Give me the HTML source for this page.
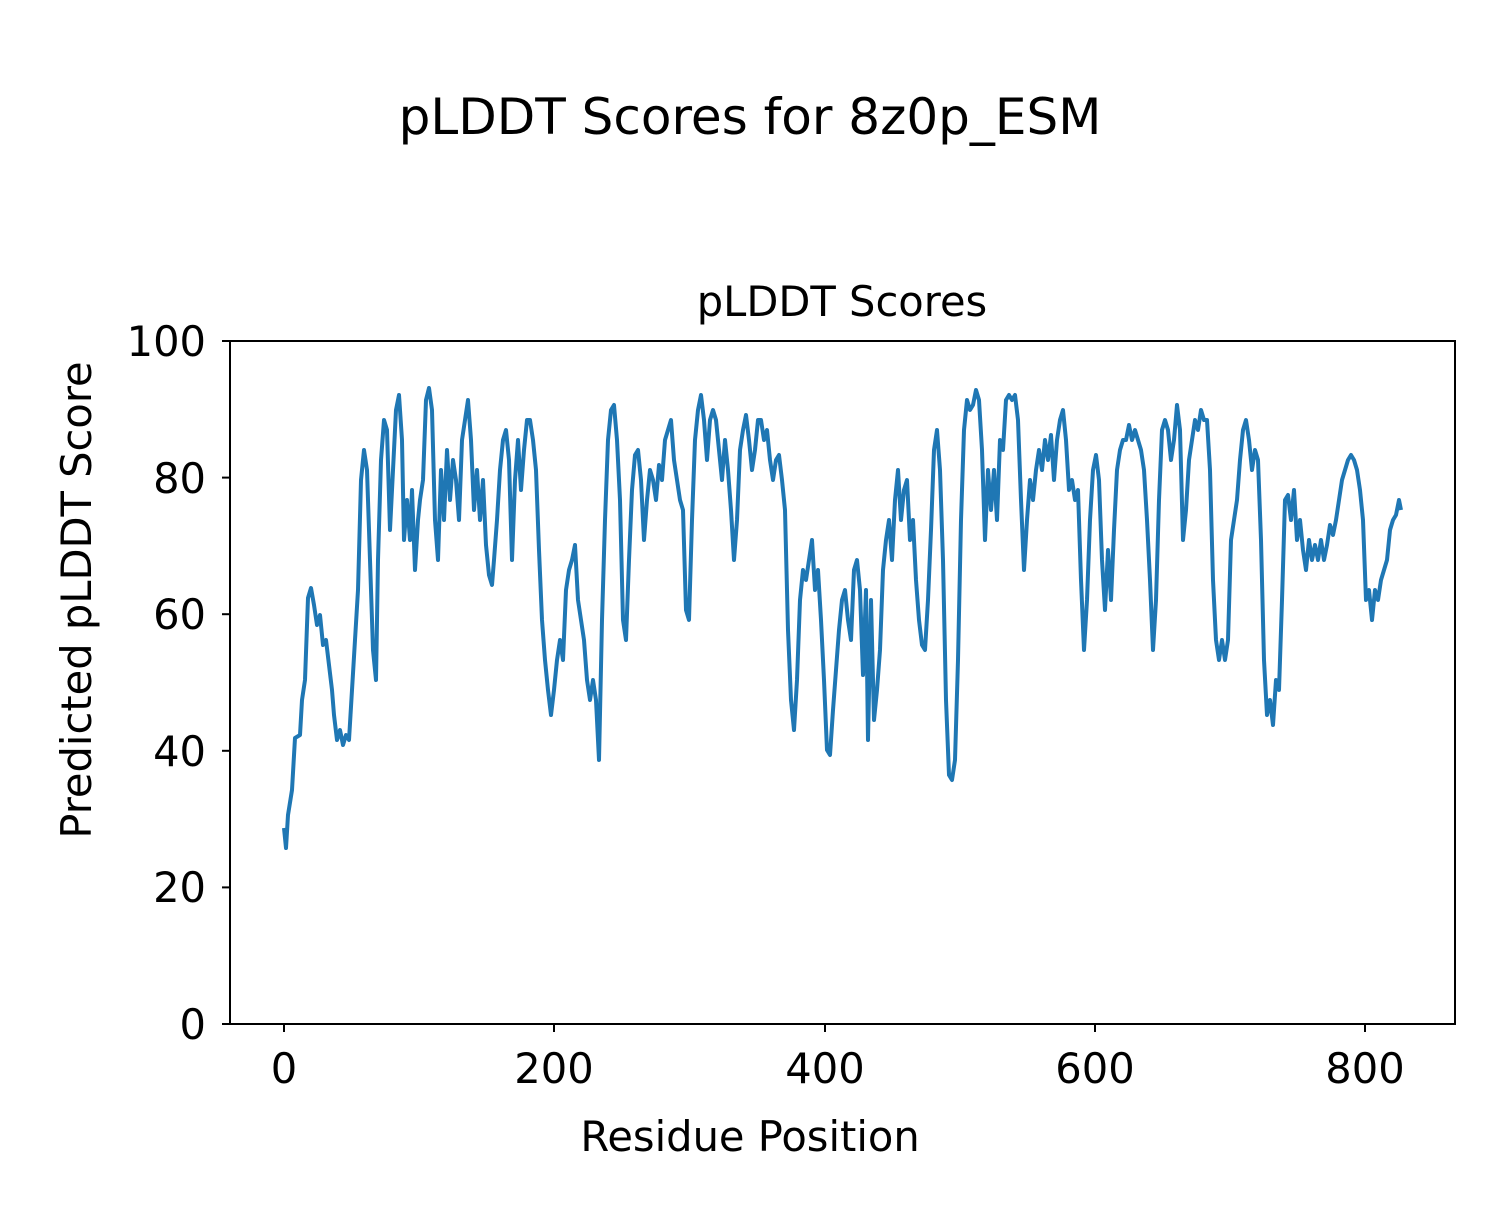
<!DOCTYPE html>
<html><head><style>body{margin:0;background:#fff}</style></head><body>
<svg width="1500" height="1200" xmlns="http://www.w3.org/2000/svg" font-family="DejaVu Sans, Liberation Sans, sans-serif">
<rect width="1500" height="1200" fill="#fff"/>
<text x="750" y="134" font-size="50" text-anchor="middle">pLDDT Scores for 8z0p_ESM</text>
<text x="842" y="316" font-size="41.6" text-anchor="middle">pLDDT Scores</text>
<polyline fill="none" stroke="#1f77b4" stroke-width="4" stroke-linejoin="round" points="284,828 286,848 288,815 292,790 295,738 300,735 302,700 305,680 308,598 311,588 314,605 317,625 320,615 323,645 326,640 329,665 332,690 334,715 337,740 340,730 343,745 346,735 349,740 352,690 355,640 358,590 361,480 364,450 367,470 370,560 373,650 376,680 378,560 381,460 384,420 387,430 390,530 393,470 396,410 399,395 402,440 404,540 407,500 410,540 412,490 415,570 418,520 420,500 423,480 426,400 429,388 432,410 435,520 438,560 441,470 444,520 447,450 450,500 453,460 456,480 459,520 462,440 465,420 468,400 471,440 474,510 477,470 480,520 483,480 486,545 489,575 492,585 494,560 497,520 500,470 503,440 506,430 509,460 512,560 515,480 518,440 521,490 524,450 527,420 530,420 533,440 536,470 539,550 542,620 545,660 548,690 551,715 554,690 557,660 560,640 563,660 566,590 569,570 572,560 575,545 578,600 581,620 584,640 587,680 590,700 593,680 596,700 599,760 602,620 605,520 608,440 611,410 614,405 617,440 620,500 623,620 626,640 629,560 632,490 635,455 638,450 641,480 644,540 647,500 650,470 653,480 656,500 659,465 662,480 665,440 668,430 671,420 674,460 677,480 680,500 683,510 686,610 689,620 692,520 695,440 698,410 701,395 704,420 707,460 710,420 713,410 716,420 719,450 722,480 725,440 728,470 731,510 734,560 737,520 740,450 743,430 746,415 749,440 752,470 755,450 758,420 761,420 764,440 767,430 770,460 773,480 776,460 779,455 782,480 785,510 788,630 791,700 794,730 797,680 800,600 803,570 806,580 809,560 812,540 815,590 818,570 821,620 824,680 827,750 830,755 833,710 836,670 839,630 842,600 845,590 848,620 851,640 854,570 857,560 860,590 863,675 866,590 868,740 871,600 874,720 877,690 880,650 883,570 886,540 889,520 892,560 895,500 898,470 901,520 904,490 907,480 910,540 913,520 916,580 919,620 922,645 925,650 928,600 931,530 934,450 937,430 940,470 943,560 946,700 949,775 952,780 955,760 958,660 961,520 964,430 967,400 970,410 973,405 976,390 979,400 982,450 985,540 988,470 991,510 994,470 997,520 1000,440 1003,450 1006,400 1009,395 1012,400 1015,395 1018,420 1021,500 1024,570 1027,520 1030,480 1033,500 1036,470 1039,450 1042,470 1045,440 1048,460 1051,435 1054,480 1057,440 1060,420 1063,410 1066,440 1069,490 1072,480 1075,500 1078,490 1081,580 1084,650 1087,600 1090,520 1093,470 1096,455 1099,480 1102,560 1105,610 1108,550 1111,600 1114,530 1117,470 1120,450 1123,440 1126,440 1129,425 1132,440 1135,430 1138,440 1141,450 1144,470 1147,520 1150,580 1153,650 1156,600 1159,500 1162,430 1165,420 1168,430 1171,460 1174,440 1177,405 1180,430 1183,540 1186,510 1189,460 1192,440 1195,420 1198,430 1201,410 1204,420 1207,420 1210,470 1213,580 1216,640 1219,660 1222,640 1225,660 1228,640 1231,540 1234,520 1237,500 1240,460 1243,430 1246,420 1249,440 1252,470 1255,450 1258,460 1261,540 1264,660 1267,715 1270,700 1273,725 1276,680 1279,690 1282,600 1285,500 1288,495 1291,520 1294,490 1297,540 1300,520 1303,550 1306,570 1309,540 1312,560 1315,545 1318,560 1321,540 1324,560 1327,545 1330,525 1333,535 1336,520 1339,500 1342,480 1345,470 1348,460 1351,455 1354,460 1357,470 1360,490 1363,520 1366,600 1369,590 1372,620 1375,590 1378,600 1381,580 1384,570 1387,560 1390,530 1393,520 1396,515 1399,500 1401,510"/>
<rect x="230" y="341" width="1225" height="683" fill="none" stroke="#000" stroke-width="2"/>
<g stroke="#000" stroke-width="2">
<line x1="222" y1="1024" x2="230" y2="1024"/><line x1="222" y1="887.4" x2="230" y2="887.4"/><line x1="222" y1="750.8" x2="230" y2="750.8"/><line x1="222" y1="614.2" x2="230" y2="614.2"/><line x1="222" y1="477.6" x2="230" y2="477.6"/><line x1="222" y1="341" x2="230" y2="341"/>
<line x1="284" y1="1024" x2="284" y2="1032"/><line x1="554" y1="1024" x2="554" y2="1032"/><line x1="825" y1="1024" x2="825" y2="1032"/><line x1="1095" y1="1024" x2="1095" y2="1032"/><line x1="1365" y1="1024" x2="1365" y2="1032"/>
</g>
<g font-size="41.6" text-anchor="end">
<text x="206" y="1039">0</text><text x="206" y="902">20</text><text x="206" y="766">40</text><text x="206" y="629">60</text><text x="206" y="493">80</text><text x="206" y="356">100</text>
</g>
<g font-size="41.6" text-anchor="middle">
<text x="284" y="1083">0</text><text x="554" y="1083">200</text><text x="825" y="1083">400</text><text x="1095" y="1083">600</text><text x="1365" y="1083">800</text>
<text x="750" y="1151">Residue Position</text>
<text transform="translate(91,600) rotate(-90)">Predicted pLDDT Score</text>
</g>
</svg>
</body></html>
